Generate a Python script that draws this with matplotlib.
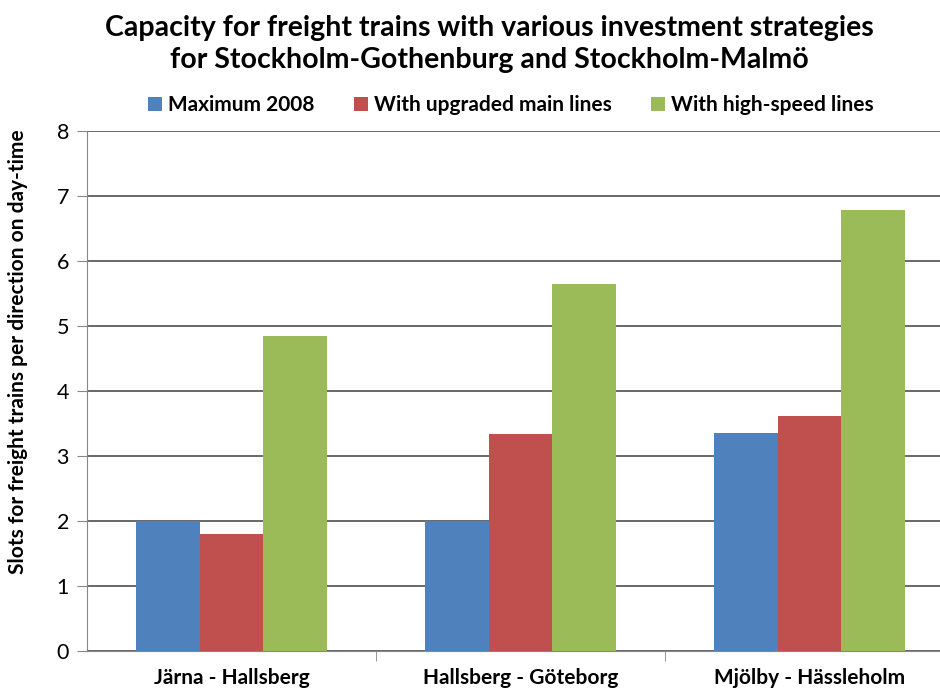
import matplotlib.pyplot as plt
import numpy as np

plt.rcParams["font.family"] = ["Lato", "DejaVu Sans"]

categories = ["Järna - Hallsberg", "Hallsberg - Göteborg", "Mjölby - Hässleholm"]
series_names = ["Maximum 2008", "With upgraded main lines", "With high-speed lines"]
maximum_2008 = [2.0, 2.0, 3.35]
upgraded_main = [1.8, 3.34, 3.62]
high_speed = [4.85, 5.64, 6.78]
colors = ["#4F81BD", "#C0504D", "#9BBB59"]

fig = plt.figure(figsize=(9.4, 6.88), dpi=100)
ax = fig.add_axes([87 / 940, 37 / 688, 867 / 940, 520 / 688])

x = np.arange(len(categories))
width = 0.221
for i, (vals, name, col) in enumerate(zip([maximum_2008, upgraded_main, high_speed], series_names, colors)):
    ax.bar(x + (i - 1) * width, vals, width, color=col, label=name, zorder=3)

ax.set_xlim(-0.5, 2.5)
ax.set_ylim(0, 8)
ax.set_yticks(range(9))
ax.yaxis.grid(True, color="#404040", linewidth=1.1, zorder=0)
ax.set_axisbelow(True)
for s in ["top", "right"]:
    ax.spines[s].set_visible(False)
for s in ["left", "bottom"]:
    ax.spines[s].set_color("#868686")
ax.tick_params(axis="y", length=7, color="#868686", labelsize=15.5, pad=6)
ax.set_xticks(x)
ax.set_xticklabels(categories, fontsize=15, fontweight="bold")
ax.tick_params(axis="x", length=0, pad=12)
ax.set_xticks([0.5, 1.5], minor=True)
ax.tick_params(axis="x", which="minor", length=7, color="#868686")

fig.text(18 / 940, 1 - 352 / 688, "Slots for freight trains per direction on day-time",
         rotation=90, ha="center", va="center", fontsize=15, fontweight="bold")
fig.text(489 / 940, 1 - 44 / 688,
         "Capacity for freight trains with various investment strategies\nfor Stockholm-Gothenburg and Stockholm-Malmö",
         ha="center", va="center", fontsize=20.5, fontweight="bold", linespacing=1.25)

fig.legend(loc="center", bbox_to_anchor=(511 / 940, 1 - 105 / 688), ncol=3, frameon=False,
           prop={"size": 15, "weight": "bold"}, handlelength=0.65, handleheight=0.65,
           handletextpad=0.3, columnspacing=1.9)

fig.savefig("out.png", dpi=100)
